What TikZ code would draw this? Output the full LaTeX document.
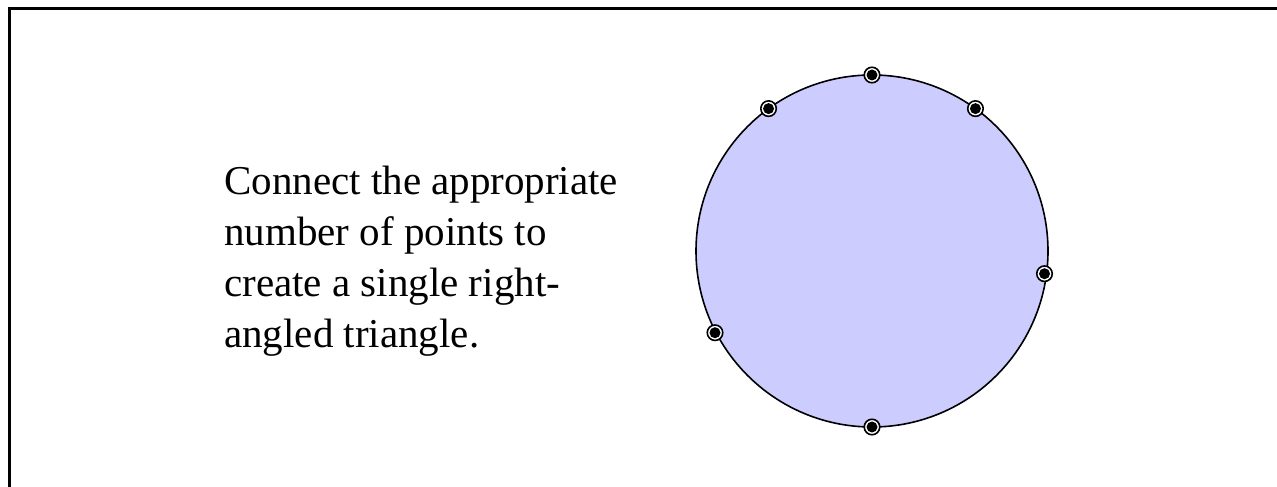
\documentclass[tikz,border=0pt]{standalone}
\usepackage{fontspec}
\setmainfont{Liberation Serif}
\definecolor{disk}{HTML}{CCCCFF}
\begin{document}
\begin{tikzpicture}[x=1pt,y=1pt,
  frame/.style={line width=3pt,black},
  disc/.style={draw=black,line width=1.6pt,fill=disk},
  dot/.style={circle,draw=black,line width=1.6pt,fill=white,inner sep=0pt,minimum size=15.5pt,
    path picture={\fill[black] (path picture bounding box.center) circle (5.5);}},
  label/.style={align=left,inner sep=0pt,font=\fontsize{41}{51}\selectfont}]
\useasboundingbox (0,0) rectangle (1277,487);
\draw[frame] (9,-5) -- (9,478) -- (1282,478);
\coordinate (c) at (872,236);
\draw[disc] (c) circle (176);
\node[dot] (p1) at ([shift={(90:176)}]c) {};
\node[dot] (p2) at ([shift={(126:176)}]c) {};
\node[dot] (p3) at ([shift={(54:176)}]c) {};
\node[dot] (p4) at ([shift={(-7.5:174)}]c) {};
\node[dot] (p5) at ([shift={(207.5:177)}]c) {};
\node[dot] (p6) at ([shift={(270:176)}]c) {};
\node[label,anchor=north west] (t) at (224,487-166) {Connect the appropriate\\number of points to\\create a single right-\\angled triangle.};
\end{tikzpicture}
\end{document}
